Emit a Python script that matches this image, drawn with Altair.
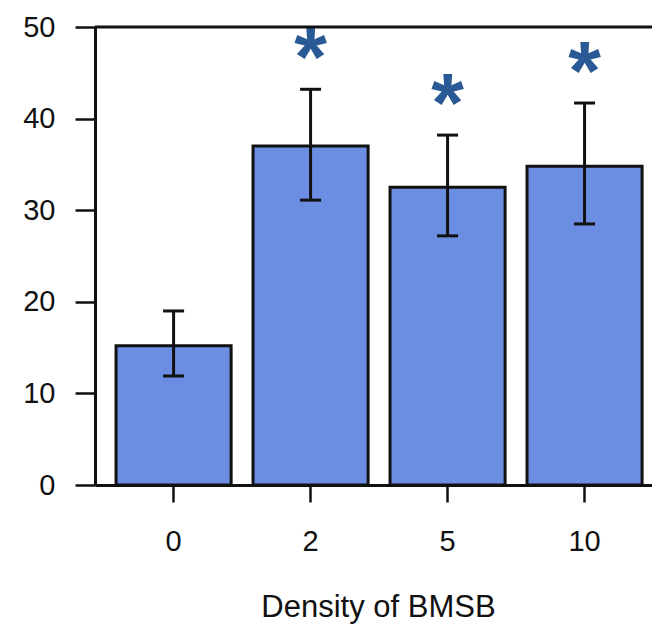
import altair as alt
import pandas as pd

density = ["0", "2", "5", "10"]
mean = [15.2, 37.0, 32.5, 34.8]
lower = [11.9, 31.1, 27.2, 28.5]
upper = [19.0, 43.2, 38.2, 41.7]
stars = ["", "*", "*", "*"]

df = pd.DataFrame({"density": density, "mean": mean, "lower": lower,
                   "upper": upper, "star": stars})

FONT = "Liberation Sans"

x = alt.X("density:N", sort=density, title="Density of BMSB",
          scale=alt.Scale(paddingInner=0.16, paddingOuter=0.113, align=0.68),
          axis=alt.Axis(labelAngle=0, labelFontSize=29, titleFontSize=31,
                        labelFont=FONT, titleFont=FONT, labelColor="#111",
                        titleColor="#111", titleFontWeight="normal",
                        tickSize=17, tickWidth=2.5, tickColor="#111",
                        domainWidth=3, domainColor="#111", labelPadding=25,
                        titlePadding=36, titleX=283))
y = alt.Y("mean:Q", title=None,
          scale=alt.Scale(domain=[0, 50], nice=False),
          axis=alt.Axis(values=[0, 10, 20, 30, 40, 50], labelFontSize=29,
                        labelFont=FONT, labelColor="#111", tickSize=20,
                        tickWidth=2.5, tickColor="#111", domainWidth=3,
                        domainColor="#111", labelPadding=20, grid=False))

base = alt.Chart(df)

bars = base.mark_bar(fill="#6b8ee3", stroke="#111", strokeWidth=3).encode(x=x, y=y)

err = base.mark_rule(color="#111", strokeWidth=3).encode(
    x=alt.X("density:N", sort=density), y="lower:Q", y2="upper:Q")

caps_lo = base.mark_tick(color="#111", thickness=3, size=21, opacity=1).encode(
    x=alt.X("density:N", sort=density), y="lower:Q")
caps_hi = base.mark_tick(color="#111", thickness=3, size=21, opacity=1).encode(
    x=alt.X("density:N", sort=density), y="upper:Q")

star_txt = base.mark_text(font=FONT, fontSize=84, fontWeight="bold",
                          color="#2a5a95", baseline="alphabetic", dy=-3).encode(
    x=alt.X("density:N", sort=density), y="upper:Q", text="star:N")

top = alt.Chart(pd.DataFrame({"v": [50]})).mark_rule(
    color="#111", strokeWidth=3).encode(y="v:Q")

chart = alt.layer(bars, err, caps_lo, caps_hi, star_txt, top).properties(
    width=557, height=458,
    autosize=alt.AutoSizeParams(type="none"),
    padding={"left": 95, "top": 27, "right": 0, "bottom": 140},
).configure_view(stroke=None).configure(background="white")

chart.save("out.html", embed_options={"renderer": "svg", "actions": False})
